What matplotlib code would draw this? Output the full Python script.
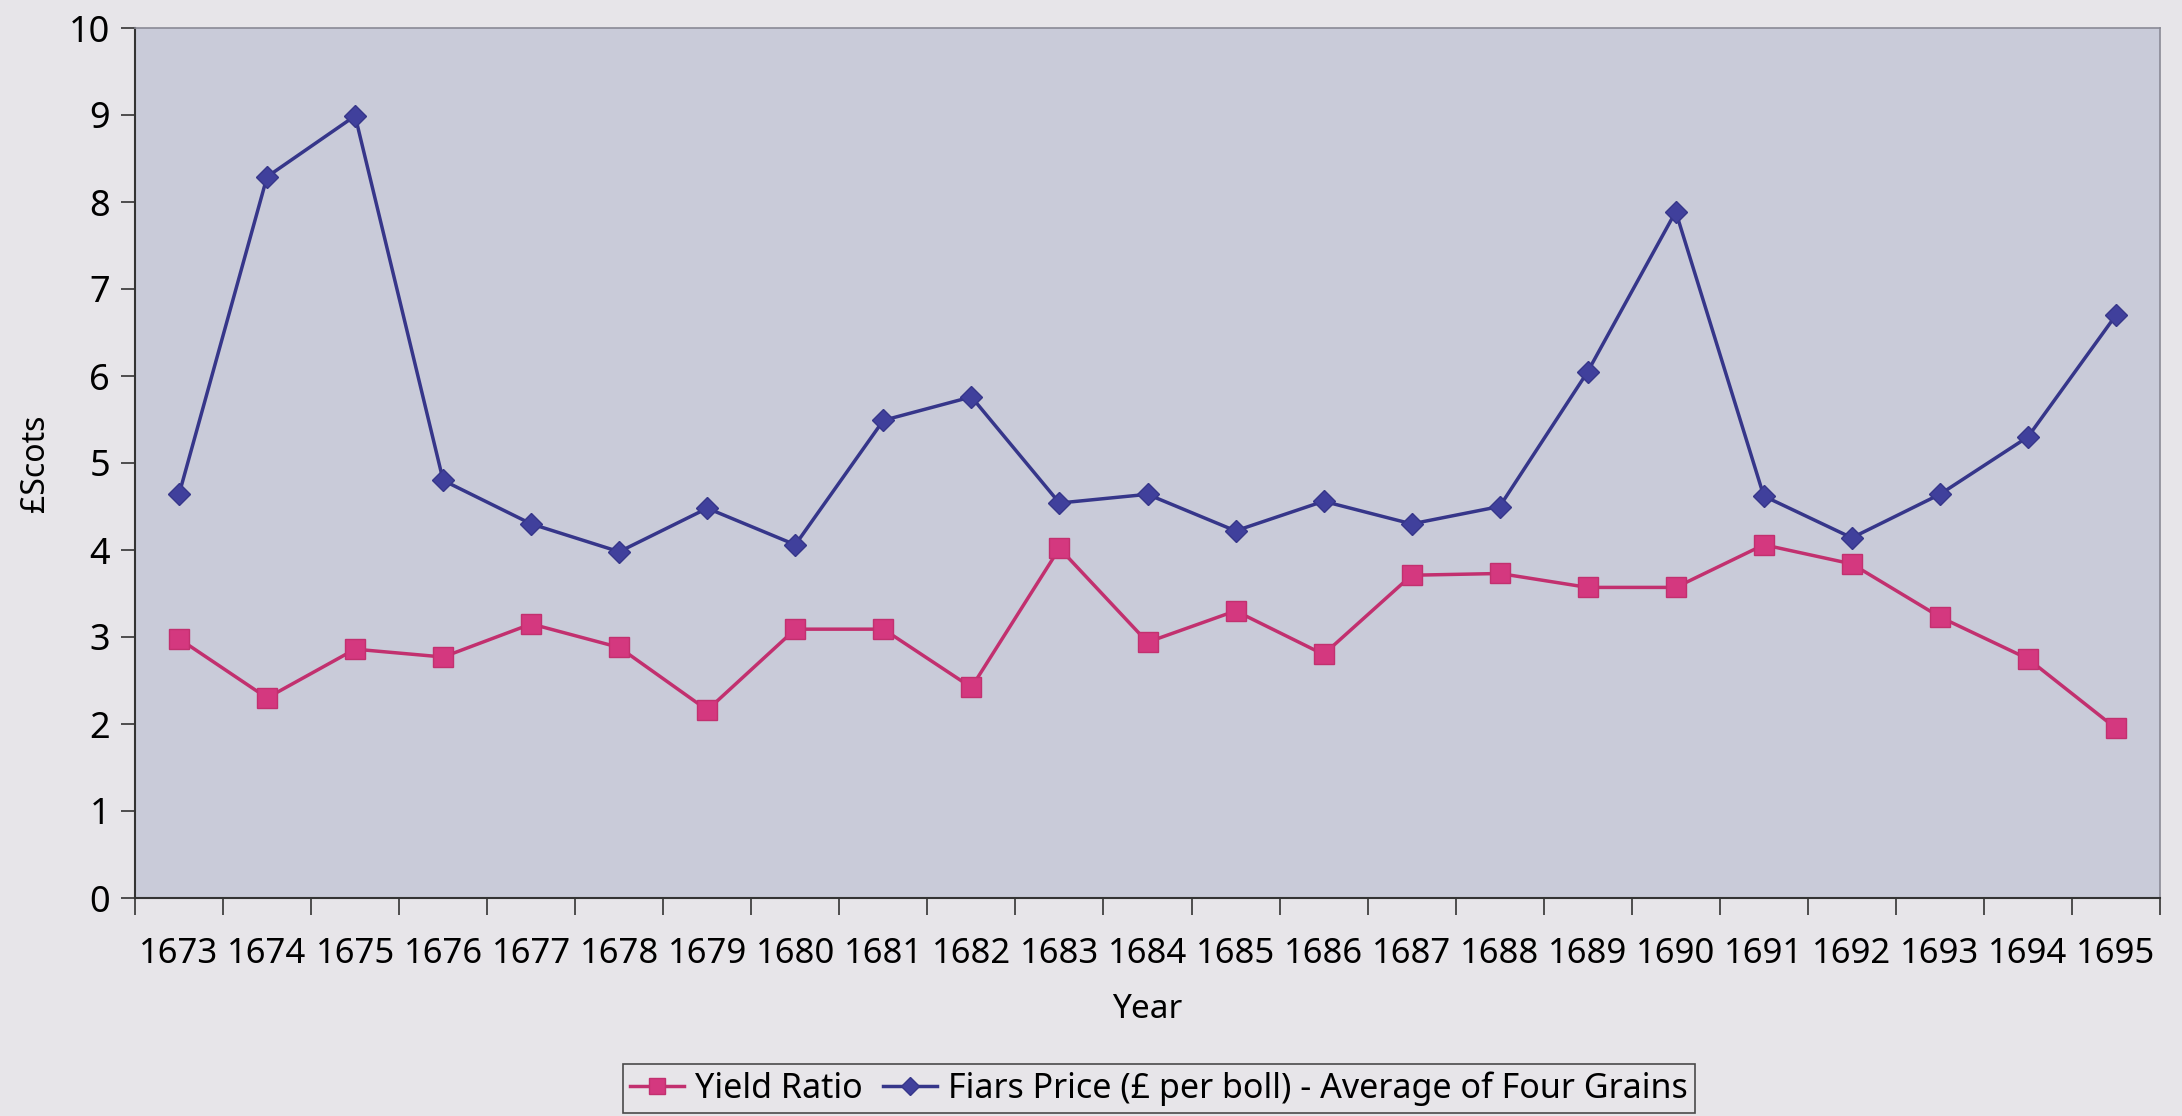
import matplotlib
matplotlib.use("Agg")
import matplotlib.pyplot as plt
import numpy as np

years = [str(y) for y in range(1673, 1696)]
yield_ratio = [2.98, 2.30, 2.86, 2.77, 3.15, 2.88, 2.16, 3.09, 3.09, 2.42, 4.02, 2.94,
               3.30, 2.80, 3.71, 3.73, 3.57, 3.57, 4.06, 3.84, 3.23, 2.75, 1.95]
fiars_price = [4.64, 8.29, 8.99, 4.80, 4.30, 3.98, 4.48, 4.06, 5.49, 5.76, 4.54, 4.64,
               4.22, 4.56, 4.30, 4.50, 6.05, 7.89, 4.62, 4.14, 4.64, 5.30, 6.70]

plt.rcParams["font.family"] = ["Noto Sans", "DejaVu Sans"]

fig = plt.figure(figsize=(21.82, 11.16), dpi=100, facecolor="#e7e5e9")
ax = fig.add_axes([135 / 2182, 1 - 898 / 1116, (2160 - 135) / 2182, (898 - 28) / 1116])
ax.set_facecolor("#c9cbd9")

x = np.arange(len(years))
ax.plot(x, yield_ratio, color="#c2306f", lw=2.5, marker="s", ms=14,
        mfc="#d4387f", mec="#c2306f", label="Yield Ratio")
ax.plot(x, fiars_price, color="#36368a", lw=2.5, marker="D", ms=11,
        mfc="#40409c", mec="#36368a",
        label="Fiars Price (£ per boll) - Average of Four Grains")

ax.set_xlim(-0.5, len(years) - 0.5)
ax.set_ylim(0, 10)
ax.set_yticks(range(0, 11))
ax.tick_params(axis="y", labelsize=26, length=10, width=1.2, color="#333333", pad=8)
ax.set_xticks(x)
ax.set_xticklabels(years)
ax.set_xticks(np.arange(-0.5, len(years)), minor=True)
ax.tick_params(axis="x", which="major", length=0, labelsize=25, pad=28)
ax.tick_params(axis="x", which="minor", length=12, width=1.2, color="#333333")

for s in ["left", "bottom"]:
    ax.spines[s].set_color("#333333")
    ax.spines[s].set_linewidth(1.5)
for s in ["top", "right"]:
    ax.spines[s].set_color("#8a8a96")
    ax.spines[s].set_linewidth(1.2)

ax.set_xlabel("Year", fontsize=24, labelpad=16)
ax.set_ylabel("£Scots", fontsize=23, labelpad=12)

leg = fig.legend(loc="lower center", bbox_to_anchor=(0.531, -0.013), ncol=2, fontsize=24.5,
                 frameon=True, fancybox=False, edgecolor="#222222",
                 handlelength=1.6, handletextpad=0.3, columnspacing=0.6,
                 borderpad=0.22, markerscale=0.8)
leg.get_frame().set_facecolor("#e7e5e9")
leg.get_frame().set_linewidth(1.2)

fig.savefig("out.png", dpi=100, facecolor=fig.get_facecolor())
